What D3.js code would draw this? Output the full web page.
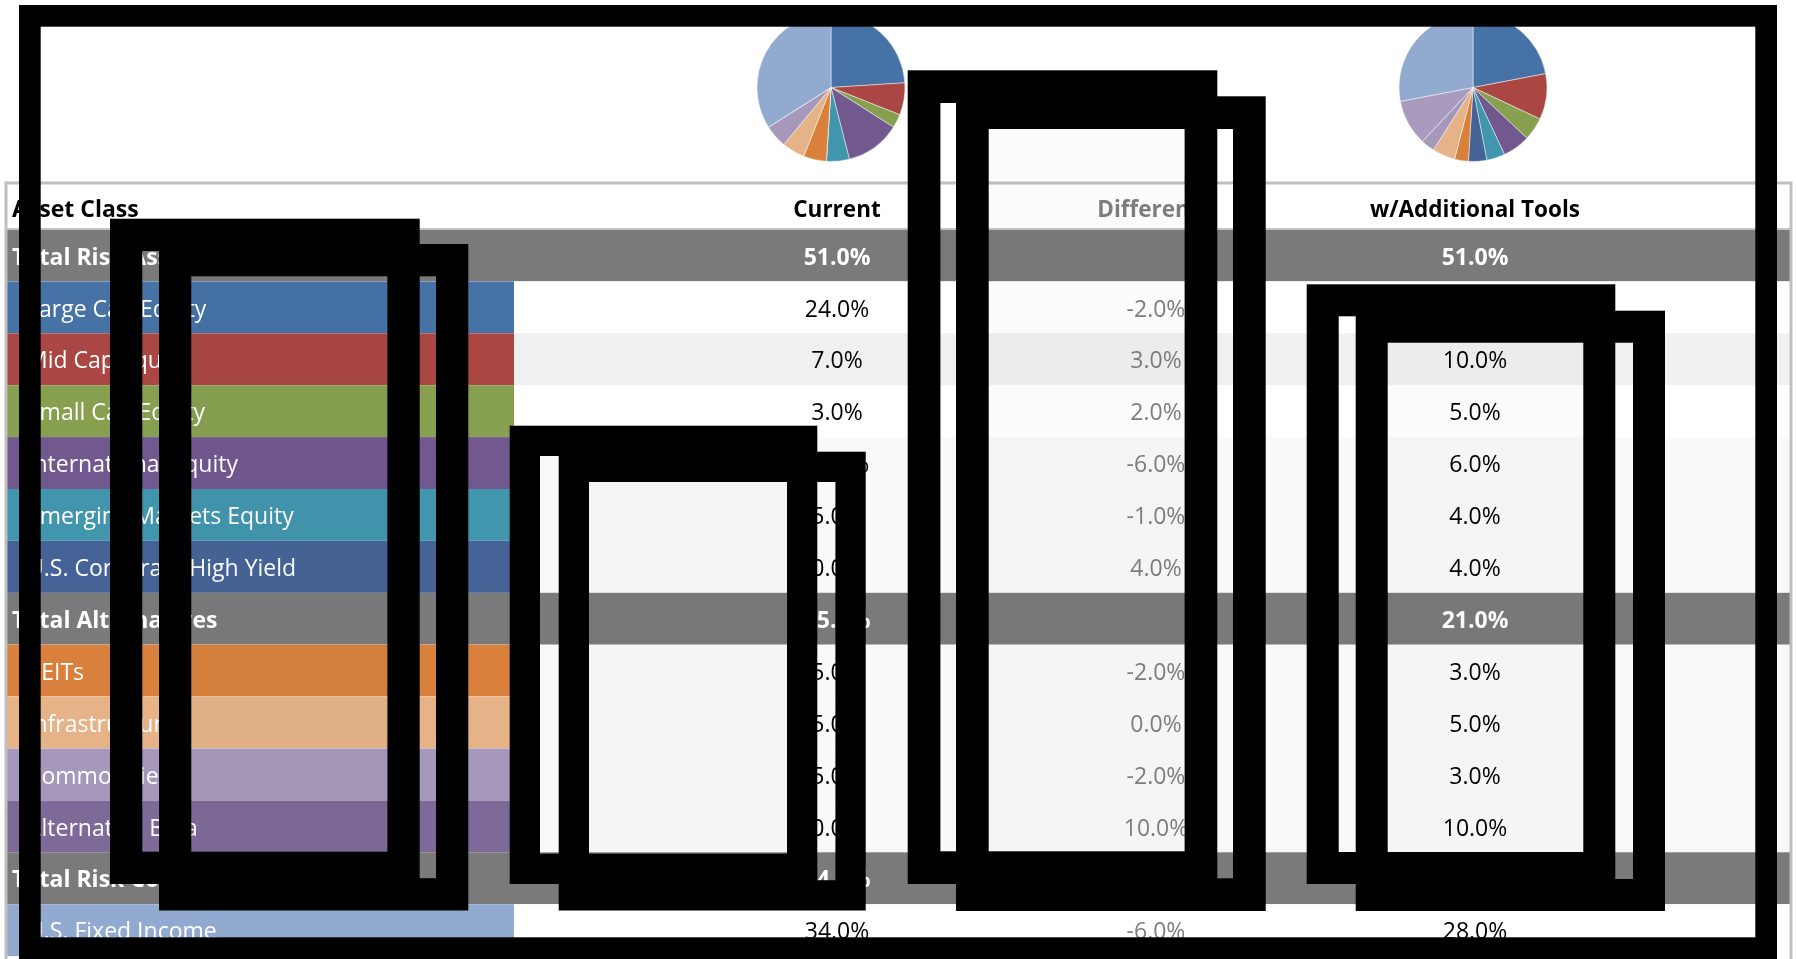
<!DOCTYPE html>
<html>
<head>
<meta charset="utf-8">
<script src="https://cdn.jsdelivr.net/npm/d3@7"></script>
<style>
  body { margin: 0; background: #fff; overflow: hidden; }
  svg { display: block; font-family: "Open Sans", sans-serif; }
  .blend { mix-blend-mode: multiply; }
</style>
</head>
<body>
<svg id="chart" width="1796" height="959"></svg>
<script>
// table data
var headers = ["Asset Class", "Current", "Difference", "w/Additional Tools"];
var rowLabels = ["Total Risk Assets", "Large Cap Equity", "Mid Cap Equity", "Small Cap Equity",
  "International Equity", "Emerging Markets Equity", "U.S. Corporate High Yield",
  "Total Alternatives", "REITs", "Infrastructure", "Commodities", "Alternative Beta",
  "Total Risk Control", "U.S. Fixed Income"];
var isTotal = [true, false, false, false, false, false, false, true, false, false, false, false, true, false];
var current = [51, 24, 7, 3, 12, 5, 0, 15, 5, 5, 5, 0, 34, 34];
var difference = [null, -2, 3, 2, -6, -1, 4, null, -2, 0, -2, 10, null, -6];
var additional = [51, 22, 10, 5, 6, 4, 4, 21, 3, 5, 3, 10, 28, 28];
var rowColors = ["#7a7a7a", "#4672a6", "#aa4644", "#87a04f", "#71588f", "#4195ad", "#466397",
  "#7a7a7a", "#d8803c", "#e6b389", "#a698ba", "#7e6a99", "#7a7a7a", "#92aad0"];
var pieColors = ["#7a7a7a", "#4672a6", "#aa4644", "#87a04f", "#71588f", "#4195ad", "#466397",
  "#7a7a7a", "#d8803c", "#e6b389", "#a698ba", "#a89bbe", "#7a7a7a", "#92aad0"];
var rowFills = ["#7a7a7a", "#ffffff", "#f0f0f0", "#ffffff", "#f9f9f9", "#f9f9f9", "#f9f9f9",
  "#7a7a7a", "#f9f9f9", "#f9f9f9", "#f9f9f9", "#f9f9f9", "#7a7a7a", "#ffffff"];

// black frames drawn over the table (outer edges)
var frames = [
  {x0: 110, y0: 218.7, x1: 419.7, y1: 884, sw: 32.3},
  {x0: 159, y0: 244, x1: 468.3, y1: 910.5, sw: 32.3},
  {x0: 509.7, y0: 425.7, x1: 817.3, y1: 884, sw: 30.3},
  {x0: 558.7, y0: 451.7, x1: 865.7, y1: 910.5, sw: 30.3},
  {x0: 907.7, y0: 70.3, x1: 1217.3, y1: 884, sw: 32.7},
  {x0: 956, y0: 96.3, x1: 1265.7, y1: 911, sw: 32.7},
  {x0: 1306.7, y0: 284.3, x1: 1615.3, y1: 884, sw: 32},
  {x0: 1355.7, y0: 310.7, x1: 1665, y1: 911, sw: 32}
];
var outerFrame = {x0: 19, y0: 5, x1: 1777, y1: 959, sw: 21.7};

var svg = d3.select("#chart");
var fmt = function(v) { return d3.format(".1f")(v).replace("\u2212", "-") + "%"; };

var tableLeft = 7, tableRight = 1790, labelRight = 514;
var y = d3.scaleBand().domain(d3.range(rowLabels.length)).range([229.5, 229.5 + 51.9 * rowLabels.length]);
var x = d3.scaleOrdinal().domain(headers.slice(1)).range([837, 1156, 1475]);

// header
svg.append("rect").attr("x", tableLeft).attr("y", 183).attr("width", tableRight - tableLeft)
  .attr("height", 46.5).attr("fill", "#fff");

// rows
var rows = svg.selectAll("g.row").data(rowLabels).join("g")
  .attr("class", "row")
  .attr("transform", function(d, i) { return "translate(0," + y(i) + ")"; });

rows.append("rect")
  .attr("x", tableLeft).attr("width", tableRight - tableLeft).attr("height", y.bandwidth())
  .attr("fill", function(d, i) { return rowFills[i]; });

rows.filter(function(d, i) { return !isTotal[i]; }).append("rect")
  .attr("x", tableLeft).attr("width", labelRight - tableLeft).attr("height", y.bandwidth())
  .attr("fill", function(d) { return rowColors[rowLabels.indexOf(d)]; });

rows.append("text")
  .attr("x", function(d, i) { return isTotal[i] ? 12 : 27; })
  .attr("y", y.bandwidth() / 2).attr("dy", "0.4em")
  .attr("fill", "#fff").attr("font-size", 23)
  .attr("font-weight", function(d, i) { return isTotal[i] ? "bold" : "normal"; })
  .text(function(d) { return d; });

function valueText(col, values, color) {
  rows.append("text")
    .attr("x", x(col)).attr("y", y.bandwidth() / 2).attr("dy", "0.4em")
    .attr("text-anchor", "middle").attr("font-size", 23)
    .attr("font-weight", function(d, i) { return isTotal[i] ? "bold" : "normal"; })
    .attr("fill", function(d, i) { return isTotal[i] ? "#fff" : color; })
    .text(function(d, i) { return values[i] == null ? "" : fmt(values[i]); });
}
valueText("Current", current, "#000");
valueText("Difference", difference, "#7f7f7f");
valueText("w/Additional Tools", additional, "#000");

// header labels
svg.append("text").attr("x", 12).attr("y", 216.5).attr("font-size", 23)
  .attr("font-weight", "bold").attr("fill", "#000").text(headers[0]);
svg.selectAll("text.head").data(headers.slice(1)).join("text")
  .attr("class", "head")
  .attr("x", function(d) { return x(d); }).attr("y", 216.5)
  .attr("text-anchor", "middle").attr("font-size", 22.5).attr("font-weight", "bold")
  .attr("fill", function(d) { return d === "Difference" ? "#7f7f7f" : "#000"; })
  .text(function(d) { return d; });

// table borders
svg.append("line").attr("x1", tableLeft).attr("x2", tableRight).attr("y1", 229).attr("y2", 229)
  .attr("stroke", "#c4c4c4").attr("stroke-width", 2);
svg.append("rect").attr("x", 6).attr("y", 183).attr("width", 1785).attr("height", 800)
  .attr("fill", "none").attr("stroke", "#bfbfbf").attr("stroke-width", 3);

// pies
var slices = rowLabels.map(function(d, i) { return i; }).filter(function(i) { return !isTotal[i]; });
var pie = d3.pie().sort(null);
var arc = d3.arc().innerRadius(0).outerRadius(74);
function drawPie(values, cx, cy) {
  var g = svg.append("g").attr("transform", "translate(" + cx + "," + cy + ")");
  g.selectAll("path").data(pie(slices.map(function(i) { return values[i]; }))).join("path")
    .attr("d", arc)
    .attr("fill", function(d, k) { return pieColors[slices[k]]; })
    .attr("stroke", "#fff").attr("stroke-width", 0.6).attr("stroke-opacity", 0.8);
}
drawPie(current, 831, 87.5);
drawPie(additional, 1473, 87.5);

// shaded overlap inside each frame pair
for (var k = 0; k < frames.length; k += 2) {
  var a = frames[k], b = frames[k + 1];
  svg.append("rect").attr("class", "blend")
    .attr("x", b.x0 + b.sw).attr("y", b.y0 + b.sw)
    .attr("width", (a.x1 - a.sw) - (b.x0 + b.sw))
    .attr("height", (a.y1 - a.sw) - (b.y0 + b.sw))
    .attr("fill", "#fbfbfb");
}

// frames
svg.selectAll("rect.frame").data(frames.concat([outerFrame])).join("rect")
  .attr("class", "frame")
  .attr("x", function(d) { return d.x0 + d.sw / 2; })
  .attr("y", function(d) { return d.y0 + d.sw / 2; })
  .attr("width", function(d) { return d.x1 - d.x0 - d.sw; })
  .attr("height", function(d) { return d.y1 - d.y0 - d.sw; })
  .attr("fill", "none").attr("stroke", "#000")
  .attr("stroke-width", function(d) { return d.sw; });
</script>
</body>
</html>
